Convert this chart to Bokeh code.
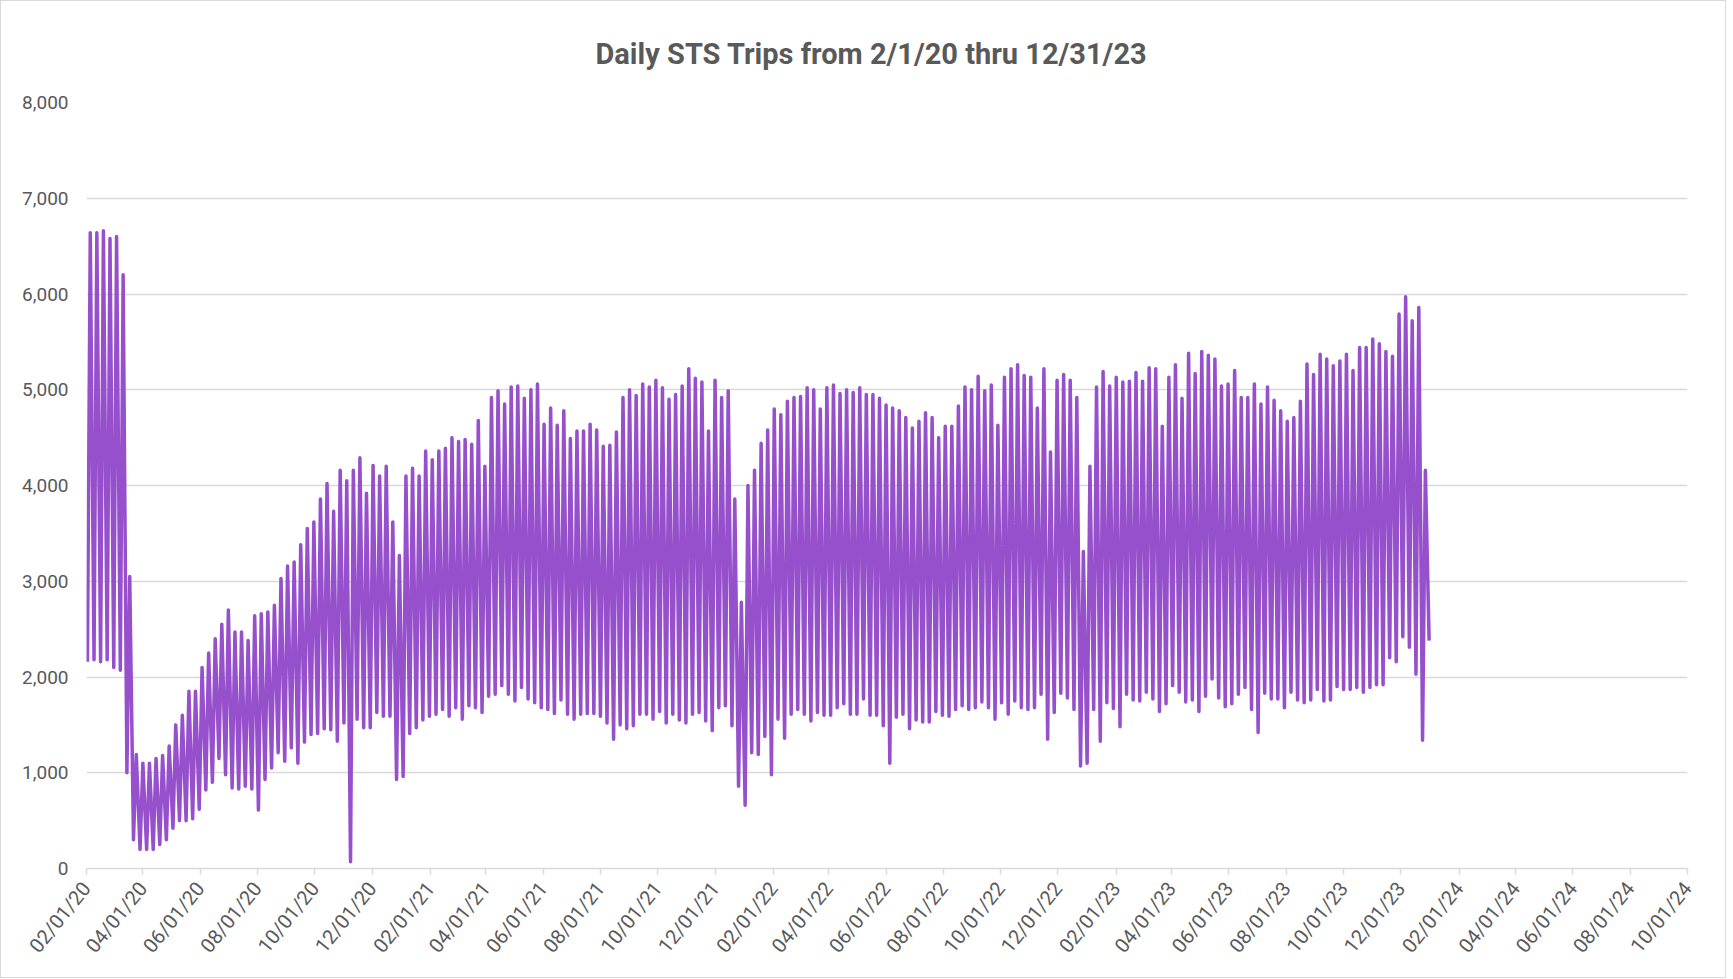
import datetime as dt
import pandas as pd
from bokeh.plotting import figure
from bokeh.models import (Range1d, FixedTicker, DatetimeTickFormatter,
                          NumeralTickFormatter, ColumnDataSource)
from bokeh.embed import file_html
from bokeh.resources import INLINE

# ---------------- data ----------------
first_sunday = "2020-02-02"   # weekly lows on Sundays, weekday peaks mid-week

week_low = [
    2160, 2180, 2160, 2180, 2100, 2070, 1000, 300, 200, 200,
    200, 250, 300, 420, 500, 500, 520, 620, 820, 900,
    1150, 980, 840, 830, 860, 830, 610, 930, 1050, 1210,
    1120, 1260, 1100, 1320, 1400, 1410, 1460, 1450, 1330, 1520,
    70, 1560, 1470, 1470, 1630, 1590, 1590, 930, 960, 1410,
    1470, 1550, 1590, 1610, 1660, 1590, 1680, 1560, 1700, 1680,
    1630, 1800, 1820, 1910, 1820, 1750, 1890, 1770, 1730, 1680,
    1660, 1620, 1760, 1610, 1560, 1610, 1620, 1620, 1590, 1520,
    1350, 1500, 1460, 1490, 1610, 1610, 1560, 1640, 1520, 1610,
    1550, 1520, 1610, 1630, 1540, 1440, 1680, 1700, 1490, 860,
    660, 1210, 1190, 1380, 980, 1560, 1360, 1610, 1660, 1610,
    1540, 1630, 1600, 1600, 1680, 1720, 1610, 1610, 1770, 1600,
    1600, 1490, 1100, 1580, 1610, 1460, 1550, 1530, 1530, 1640,
    1600, 1590, 1660, 1700, 1660, 1680, 1740, 1680, 1560, 1730,
    1610, 1750, 1680, 1660, 1680, 1820, 1350, 1630, 1830, 1780,
    1660, 1070, 1100, 1660, 1330, 1730, 1670, 1480, 1820, 1760,
    1750, 1840, 1770, 1640, 1720, 1910, 1840, 1740, 1760, 1640,
    1800, 1980, 1780, 1690, 1720, 1820, 1890, 1660, 1420, 1830,
    1770, 1770, 1680, 1840, 1760, 1730, 1760, 1870, 1750, 1760,
    1900, 1870, 1870, 1890, 1840, 1890, 1920, 1920, 2200, 2160,
    2420, 2310, 2030, 1340, 2380,
]

week_peak = [
    6640, 6640, 6660, 6580, 6600, 6200, 3050, 1190, 1100, 1100,
    1150, 1180, 1280, 1500, 1600, 1850, 1850, 2100, 2250, 2400,
    2550, 2700, 2470, 2470, 2380, 2640, 2660, 2680, 2750, 3030,
    3160, 3200, 3380, 3550, 3620, 3860, 4020, 3730, 4160, 4050,
    4160, 4290, 3920, 4210, 4100, 4200, 3620, 3270, 4100, 4180,
    4100, 4360, 4270, 4360, 4390, 4500, 4460, 4480, 4430, 4680,
    4200, 4920, 4990, 4850, 5030, 5040, 4910, 5000, 5060, 4640,
    4810, 4630, 4780, 4490, 4570, 4570, 4640, 4580, 4410, 4420,
    4560, 4920, 5000, 4940, 5060, 5030, 5100, 5020, 4900, 4950,
    5040, 5220, 5120, 5080, 4570, 5100, 4920, 4990, 3860, 2780,
    4000, 4160, 4440, 4580, 4800, 4740, 4880, 4920, 4930, 5020,
    5000, 4800, 5020, 5050, 4960, 5000, 4970, 5020, 4950, 4950,
    4910, 4840, 4810, 4780, 4710, 4600, 4670, 4760, 4710, 4500,
    4620, 4620, 4830, 5030, 5000, 5140, 4990, 5050, 4630, 5130,
    5220, 5260, 5150, 5130, 4810, 5220, 4350, 5100, 5160, 5100,
    4920, 3310, 4200, 5030, 5190, 5040, 5130, 5080, 5090, 5180,
    5090, 5230, 5220, 4620, 5130, 5260, 4910, 5380, 5170, 5400,
    5360, 5320, 5040, 5060, 5200, 4920, 4920, 5060, 4850, 5030,
    4890, 4780, 4670, 4710, 4880, 5270, 5160, 5370, 5320, 5250,
    5300, 5370, 5200, 5440, 5440, 5530, 5480, 5400, 5350, 5790,
    5970, 5720, 5860, 4160,
]

x_tick_labels = [
    "02/01/20", "04/01/20", "06/01/20", "08/01/20", "10/01/20", "12/01/20",
    "02/01/21", "04/01/21", "06/01/21", "08/01/21", "10/01/21", "12/01/21",
    "02/01/22", "04/01/22", "06/01/22", "08/01/22", "10/01/22", "12/01/22",
    "02/01/23", "04/01/23", "06/01/23", "08/01/23", "10/01/23", "12/01/23",
    "02/01/24", "04/01/24", "06/01/24", "08/01/24", "10/01/24",
]
y_ticks = [0, 1000, 2000, 3000, 4000, 5000, 6000, 7000, 8000]

title_text = "Daily STS Trips from 2/1/20 thru 12/31/23"

# ---------------- build the series ----------------
start = pd.Timestamp(first_sunday)
dates, trips = [], []
for k, pk in enumerate(week_peak):
    dates.append(start + pd.Timedelta(days=7 * k))
    trips.append(week_low[k])
    dates.append(start + pd.Timedelta(days=7 * k + 3))
    trips.append(pk)
dates.append(start + pd.Timedelta(days=7 * len(week_peak)))
trips.append(week_low[len(week_peak)])
src = ColumnDataSource(data=dict(date=dates, trips=trips))

tick_dates = [pd.Timestamp(dt.datetime.strptime(s, "%m/%d/%y")) for s in x_tick_labels]
tick_ms = [t.timestamp() * 1000.0 for t in tick_dates]

GRAY_TXT = "#595959"
GRID = "#D9D9D9"

p = figure(width=1726, height=978, x_axis_type="datetime",
           x_range=Range1d(tick_dates[0], tick_dates[-1]),
           y_range=Range1d(y_ticks[0], y_ticks[-1]),
           output_backend="svg", toolbar_location=None,
           min_border_left=85, min_border_right=40,
           min_border_top=101, min_border_bottom=111)
p.background_fill_color = "white"
p.border_fill_color = "white"
p.outline_line_color = None
p.styles = {"border": "1px solid #D9D9D9", "box-sizing": "border-box"}

p.title.text = title_text
p.title.align = "left"
p.title.offset = 509
p.title.standoff = 64
p.title.text_font = "Roboto"
p.title.text_font_style = "bold"
p.title.text_font_size = "29px"
p.title.text_color = GRAY_TXT

p.line(x="date", y="trips", source=src, line_color="#9650CC",
       line_width=3.5, line_join="round")

# y axis
p.yaxis.ticker = FixedTicker(ticks=y_ticks)
p.yaxis.formatter = NumeralTickFormatter(format="0,0")
p.yaxis.axis_line_color = None
p.yaxis.major_tick_line_color = None
p.yaxis.minor_tick_line_color = None
p.yaxis.major_label_standoff = 12
p.yaxis.major_label_text_font = "Roboto"
p.yaxis.major_label_text_font_size = "19px"
p.yaxis.major_label_text_color = GRAY_TXT

# x axis
fmt = "%m/%d/%y"
p.xaxis.ticker = FixedTicker(ticks=tick_ms)
p.xaxis.formatter = DatetimeTickFormatter(
    microseconds=fmt, milliseconds=fmt, seconds=fmt, minsec=fmt,
    minutes=fmt, hourmin=fmt, hours=fmt, days=fmt, months=fmt, years=fmt)
p.xaxis.major_label_orientation = 0.89
p.xaxis.axis_line_color = GRID
p.xaxis.axis_line_width = 1.5
p.xaxis.major_tick_line_color = GRID
p.xaxis.major_tick_line_width = 1.5
p.xaxis.major_tick_in = 0
p.xaxis.major_tick_out = 6
p.xaxis.minor_tick_line_color = None
p.xaxis.major_label_standoff = 10
p.xaxis.major_label_text_font = "Roboto"
p.xaxis.major_label_text_font_size = "20px"
p.xaxis.major_label_text_color = GRAY_TXT

p.xgrid.grid_line_color = None
p.ygrid.grid_line_color = GRID
p.ygrid.grid_line_width = 1.5

open("out.html", "w").write(file_html(p, INLINE))
